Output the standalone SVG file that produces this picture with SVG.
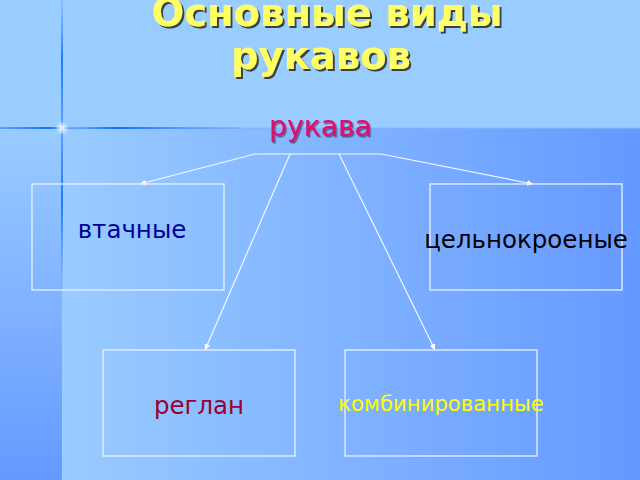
<svg xmlns="http://www.w3.org/2000/svg" width="640" height="480" viewBox="0 0 640 480">
  <defs>
    <linearGradient id="gMain" x1="0" y1="0" x2="1" y2="0">
      <stop offset="0" stop-color="#99CCFF"/>
      <stop offset="1" stop-color="#6699FF"/>
    </linearGradient>
    <linearGradient id="gLeft" x1="0" y1="0" x2="0" y2="1">
      <stop offset="0" stop-color="#99CCFF"/>
      <stop offset="1" stop-color="#6699FF"/>
    </linearGradient>
    <linearGradient id="gVert" x1="0" y1="0" x2="0" y2="1">
      <stop offset="0" stop-color="#3380FF" stop-opacity="0.15"/>
      <stop offset="0.2" stop-color="#0066FF" stop-opacity="0.8"/>
      <stop offset="0.44" stop-color="#0066FF" stop-opacity="0.4"/>
      <stop offset="0.7" stop-color="#0066FF" stop-opacity="0.8"/>
      <stop offset="1" stop-color="#3380FF" stop-opacity="0.1"/>
    </linearGradient>
    <linearGradient id="gHor" x1="0" y1="0" x2="1" y2="0">
      <stop offset="0" stop-color="#3380FF" stop-opacity="0.5"/>
      <stop offset="0.2" stop-color="#0066FF" stop-opacity="0.9"/>
      <stop offset="0.26" stop-color="#0066FF" stop-opacity="0.3"/>
      <stop offset="0.34" stop-color="#0066FF" stop-opacity="0.3"/>
      <stop offset="0.48" stop-color="#0066FF" stop-opacity="0.9"/>
      <stop offset="1" stop-color="#4D88FF" stop-opacity="0.2"/>
    </linearGradient>
    <radialGradient id="gStar">
      <stop offset="0" stop-color="#FFFFFF" stop-opacity="1"/>
      <stop offset="1" stop-color="#FFFFFF" stop-opacity="0"/>
    </radialGradient>
    <filter id="shTitle" x="-10%" y="-30%" width="120%" height="160%">
      <feDropShadow dx="2" dy="2" stdDeviation="0.4" flood-color="#333333" flood-opacity="0.9"/>
    </filter>
    <filter id="shRoot" x="-10%" y="-30%" width="120%" height="160%">
      <feDropShadow dx="1.5" dy="1.5" stdDeviation="0.4" flood-color="#4A1030" flood-opacity="0.6"/>
    </filter>
    <marker id="arr" viewBox="0 0 10 10" refX="10" refY="5" markerWidth="6" markerHeight="6" markerUnits="userSpaceOnUse" orient="auto">
      <path d="M0,0 L10,5 L0,10 z" fill="#FFFFFF"/>
    </marker>
    <style>
      .box { fill: none; stroke: #E8F2FF; stroke-width: 1.3; }
      .con { fill: none; stroke: #F4F8FF; stroke-width: 1.2; }
      .lbl { font-family: "DejaVu Sans", Verdana, sans-serif; font-size: 24.5px; text-anchor: middle; }
      .root { font-size: 28.2px; }
      .small { font-size: 21.2px; }
      .title { font-family: "DejaVu Sans", Verdana, sans-serif; font-size: 38.5px; font-weight: bold; text-anchor: middle; fill: #FFFF66; }
    </style>
  </defs>

  <!-- background -->
  <rect x="0" y="0" width="640" height="128" fill="#99CCFF"/>
  <rect x="62" y="128" width="578" height="352" fill="url(#gMain)"/>
  <rect x="0" y="128" width="62" height="352" fill="url(#gLeft)"/>
  <rect x="0" y="127.5" width="640" height="1.5" fill="#80B4F8" opacity="0.7"/>
  <rect x="61" y="0" width="2" height="290" fill="url(#gVert)"/>
  <rect x="0" y="127" width="240" height="2" fill="url(#gHor)"/>
  <circle cx="62" cy="128" r="7" fill="url(#gStar)"/>

  <!-- title -->
  <g id="title" filter="url(#shTitle)">
    <text class="title" x="327" y="26">Основные виды</text>
    <text class="title" x="321" y="69">рукавов</text>
  </g>

  <!-- connectors -->
  <g id="connectors">
    <path class="con" d="M255,154 H381"/>
    <path class="con" d="M255,154 L140,184" marker-end="url(#arr)"/>
    <path class="con" d="M381,154 L533,184" marker-end="url(#arr)"/>
    <path class="con" d="M290,154 L205,350" marker-end="url(#arr)"/>
    <path class="con" d="M339,154 L435,350" marker-end="url(#arr)"/>
  </g>

  <!-- nodes -->
  <g id="node-root">
    <text class="lbl root" x="320.5" y="136" fill="#E0086A" filter="url(#shRoot)">рукава</text>
  </g>
  <g id="node-vtachnye">
    <rect class="box" x="32" y="184" width="192" height="106"/>
    <text class="lbl" x="132" y="238" fill="#000099">втачные</text>
  </g>
  <g id="node-celnokroenye">
    <rect class="box" x="430" y="184" width="192" height="106"/>
    <text class="lbl" x="526" y="248" fill="#000000">цельнокроеные</text>
  </g>
  <g id="node-reglan">
    <rect class="box" x="103" y="350" width="192" height="106"/>
    <text class="lbl" x="199" y="414" fill="#990033">реглан</text>
  </g>
  <g id="node-kombinirovannye">
    <rect class="box" x="345" y="350" width="192" height="106"/>
    <text class="lbl small" x="441" y="411" fill="#FFFF00">комбинированные</text>
  </g>
</svg>
